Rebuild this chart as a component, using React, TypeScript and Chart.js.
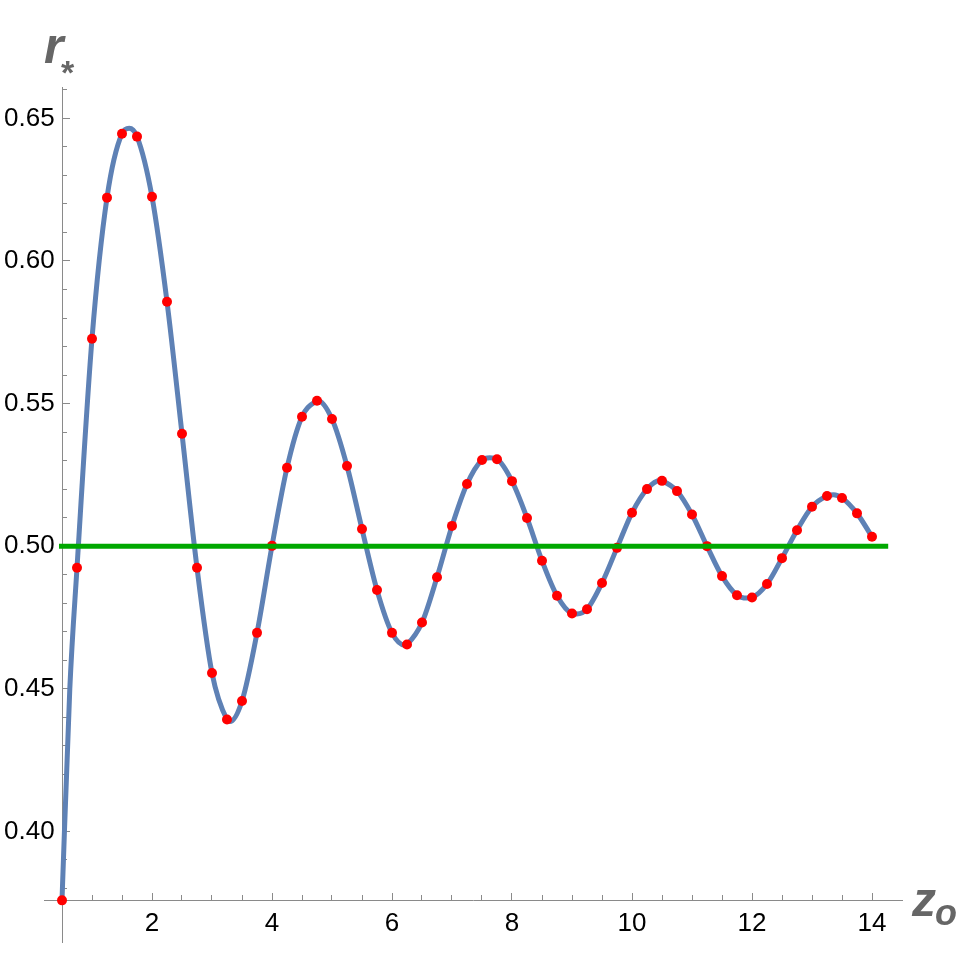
import React, { useEffect, useRef } from 'react';
import { Chart, registerables } from 'chart.js';

Chart.register(...registerables);

// Sampled points (red dots): z0 and r*
const dotX = [
  0.5, 0.75, 1.0, 1.25, 1.5, 1.75, 2.0, 2.25, 2.5, 2.75,
  3.0, 3.25, 3.5, 3.75, 4.0, 4.25, 4.5, 4.75, 5.0, 5.25,
  5.5, 5.75, 6.0, 6.25, 6.5, 6.75, 7.0, 7.25, 7.5, 7.75,
  8.0, 8.25, 8.5, 8.75, 9.0, 9.25, 9.5, 9.75, 10.0, 10.25,
  10.5, 10.75, 11.0, 11.25, 11.5, 11.75, 12.0, 12.25, 12.5, 12.75,
  13.0, 13.25, 13.5, 13.75, 14.0,
];
const dotY = [
  0.3758, 0.4924, 0.5727, 0.6222, 0.6446, 0.6436, 0.6225, 0.5857, 0.5394, 0.4924,
  0.4555, 0.4392, 0.4457, 0.4696, 0.5001, 0.5275, 0.5454, 0.5510, 0.5446, 0.5281,
  0.5060, 0.4846, 0.4696, 0.4655, 0.4732, 0.4891, 0.5071, 0.5218, 0.5302, 0.5305,
  0.5228, 0.5099, 0.4949, 0.4826, 0.4764, 0.4779, 0.4871, 0.4994, 0.5117, 0.5200,
  0.5229, 0.5193, 0.5111, 0.5000, 0.4895, 0.4828, 0.4820, 0.4867, 0.4958, 0.5056,
  0.5138, 0.5176, 0.5169, 0.5115, 0.5033,
];

// Extra points (turning points etc.)
const curveExtraX = [0.63, 1.62, 3.3, 4.76, 6.22, 7.63, 9.08, 10.47, 11.92, 13.36];
const curveExtraY = [0.45, 0.6465, 0.4385, 0.5511, 0.4652, 0.531, 0.4762, 0.523, 0.4818, 0.518];

// Green reference level
const levelX = [0.45, 14.27];
const levelY = [0.5, 0.5];

// Axis ticks
const xMajorTicks = [2, 4, 6, 8, 10, 12, 14];
const xMinorTicks = [1, 1.5, 2.5, 3, 3.5, 4.5, 5, 5.5, 6.5, 7, 7.5, 8.5, 9, 9.5, 10.5, 11, 11.5, 12.5, 13, 13.5];
const yMajorTicks = [0.4, 0.45, 0.5, 0.55, 0.6, 0.65];
const yMinorTicks = [
  0.38, 0.39, 0.41, 0.42, 0.43, 0.44, 0.46, 0.47, 0.48, 0.49,
  0.51, 0.52, 0.53, 0.54, 0.56, 0.57, 0.58, 0.59, 0.61, 0.62, 0.63, 0.64, 0.66,
];

const X_MIN = 0.2;
const X_MAX = 14.5;
const Y_MIN = 0.3612;
const Y_MAX = 0.661;
const AXIS_CROSS_X = 0.5;
const AXIS_CROSS_Y = 0.3758;

const AXIS_COLOR = '#8a8a8a';
const LABEL_COLOR = '#666666';
const FONT = '"Liberation Sans", Arial, sans-serif';

const zeroPad = (s: any) => {
  s.paddingLeft = 0;
  s.paddingRight = 0;
  s.paddingTop = 0;
  s.paddingBottom = 0;
};

const titlePlugin = {
  id: 'axisTitles',
  afterDraw(chart: any) {
    const ctx = chart.ctx;
    ctx.save();
    ctx.fillStyle = LABEL_COLOR;
    ctx.textBaseline = 'alphabetic';
    ctx.textAlign = 'left';
    ctx.font = `italic bold 50px ${FONT}`;
    ctx.fillText('r', 44, 63);
    ctx.font = `bold 34px ${FONT}`;
    ctx.fillText('*', 61, 84);
    ctx.font = `italic bold 48px ${FONT}`;
    ctx.fillText('z', 912, 916);
    ctx.font = `italic bold 36px ${FONT}`;
    ctx.fillText('o', 935, 925);
    ctx.restore();
  },
};

export default function App() {
  const ref = useRef<HTMLCanvasElement | null>(null);

  useEffect(() => {
    document.body.style.margin = '0';
    const canvas = ref.current;
    if (!canvas) return;

    const dots = dotX.map((x, i) => ({ x, y: dotY[i] }));
    const curve = dots
      .concat(curveExtraX.map((x, i) => ({ x, y: curveExtraY[i] })))
      .sort((a, b) => a.x - b.x);
    const level = levelX.map((x, i) => ({ x, y: levelY[i] }));

    const majorGrid = {
      drawOnChartArea: false,
      drawTicks: true,
      tickLength: -8,
      tickColor: AXIS_COLOR,
      tickWidth: 1,
    };
    const minorGrid = {
      drawOnChartArea: false,
      drawTicks: true,
      tickLength: -5,
      tickColor: AXIS_COLOR,
      tickWidth: 1,
    };

    const chart = new Chart(canvas, {
      type: 'scatter',
      data: {
        datasets: [
          {
            label: 'level',
            data: level,
            showLine: true,
            borderColor: '#00A800',
            borderWidth: 5,
            borderCapStyle: 'butt',
            pointRadius: 0,
            order: 0,
          },
          {
            label: 'samples',
            data: dots,
            showLine: false,
            backgroundColor: '#FF0000',
            borderWidth: 0,
            pointRadius: 5,
            order: 1,
            clip: false,
          },
          {
            label: 'curve',
            data: curve,
            showLine: true,
            borderColor: '#5E81B5',
            borderWidth: 5,
            pointRadius: 0,
            cubicInterpolationMode: 'monotone',
            order: 2,
          },
        ],
      } as any,
      options: {
        animation: false,
        responsive: false,
        devicePixelRatio: 1,
        events: [],
        layout: {
          autoPadding: false,
          padding: { left: 44, right: 58, top: 87, bottom: 18 },
        },
        plugins: {
          legend: { display: false },
          tooltip: { enabled: false },
        },
        scales: {
          x: {
            type: 'linear',
            axis: 'x',
            min: X_MIN,
            max: X_MAX,
            position: { y: AXIS_CROSS_Y },
            afterBuildTicks: (s: any) => {
              s.ticks = xMajorTicks.map((v) => ({ value: v }));
            },
            afterFit: (s: any) => {
              s.height = 0;
              zeroPad(s);
            },
            grid: majorGrid,
            border: { display: true, color: AXIS_COLOR, width: 1 },
            ticks: {
              color: '#000000',
              font: { family: FONT, size: 26 },
              padding: 16,
              autoSkip: false,
              maxRotation: 0,
              callback: (v: any) => String(v),
            },
          },
          xMinor: {
            type: 'linear',
            axis: 'x',
            min: X_MIN,
            max: X_MAX,
            position: { y: AXIS_CROSS_Y },
            afterBuildTicks: (s: any) => {
              s.ticks = xMinorTicks.map((v) => ({ value: v }));
            },
            afterFit: (s: any) => {
              s.height = 0;
              zeroPad(s);
            },
            grid: minorGrid,
            border: { display: false },
            ticks: { display: false },
          },
          y: {
            type: 'linear',
            axis: 'y',
            min: Y_MIN,
            max: Y_MAX,
            position: { x: AXIS_CROSS_X },
            afterBuildTicks: (s: any) => {
              s.ticks = yMajorTicks.map((v) => ({ value: v }));
            },
            afterFit: (s: any) => {
              s.width = 0;
              zeroPad(s);
            },
            grid: majorGrid,
            border: { display: true, color: AXIS_COLOR, width: 1 },
            ticks: { display: false },
          },
          yLabels: {
            type: 'linear',
            axis: 'y',
            min: Y_MIN,
            max: Y_MAX,
            position: 'left',
            afterBuildTicks: (s: any) => {
              s.ticks = yMajorTicks.map((v) => ({ value: v }));
            },
            afterFit: (s: any) => {
              s.width = 0;
              zeroPad(s);
            },
            grid: { display: false, drawTicks: false, drawOnChartArea: false },
            border: { display: false },
            ticks: {
              color: '#000000',
              font: { family: FONT, size: 26 },
              mirror: true,
              padding: -40,
              autoSkip: false,
              crossAlign: 'near',
              callback: (v: any) => Number(v).toFixed(2),
            },
          },
          yMinor: {
            type: 'linear',
            axis: 'y',
            min: Y_MIN,
            max: Y_MAX,
            position: { x: AXIS_CROSS_X },
            afterBuildTicks: (s: any) => {
              s.ticks = yMinorTicks.map((v) => ({ value: v }));
            },
            afterFit: (s: any) => {
              s.width = 0;
              zeroPad(s);
            },
            grid: minorGrid,
            border: { display: false },
            ticks: { display: false },
          },
        },
      } as any,
      plugins: [titlePlugin],
    });

    return () => chart.destroy();
  }, []);

  return (
    <div style={{ position: 'absolute', left: 0, top: 0, width: 960, height: 960, background: '#ffffff' }}>
      <canvas ref={ref} width={960} height={960} style={{ display: 'block', width: 960, height: 960 }} />
    </div>
  );
}
